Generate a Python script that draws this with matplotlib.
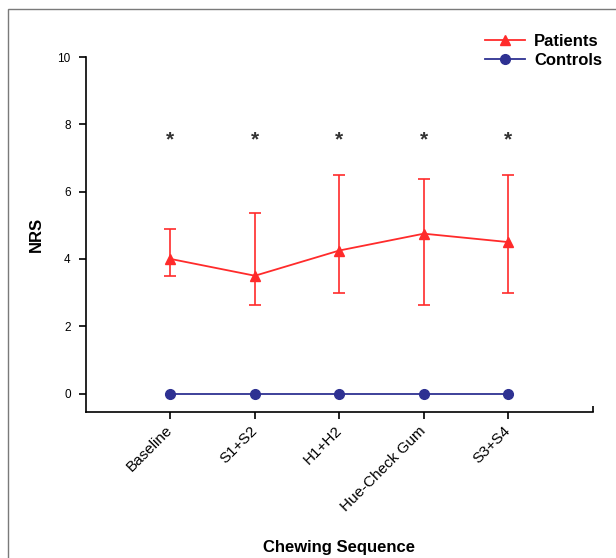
import matplotlib
matplotlib.use('Agg')
import matplotlib.pyplot as plt
from matplotlib.patches import Rectangle

plt.rcParams['font.family'] = ['Liberation Sans', 'DejaVu Sans']

# data
stages = ['Baseline', 'S1+S2', 'H1+H2', 'Hue-Check Gum', 'S3+S4']
patients = [4.0, 3.5, 4.25, 4.75, 4.5]
patients_hi = [4.875, 5.375, 6.5, 6.375, 6.5]
patients_lo = [3.5, 2.625, 3.0, 2.625, 3.0]
controls = [0, 0, 0, 0, 0]
star_y = [7.55, 7.55, 7.55, 7.55, 7.55]

red = '#ff2b2b'
blue = '#2e3192'

W, H = 616, 558
fig = plt.figure(figsize=(W / 100, H / 100), dpi=100)
fig.add_artist(Rectangle((8 / W, -0.1), 1.2, 1.1 - 9 / H, transform=fig.transFigure,
                         fill=False, edgecolor='#7a7a7a', lw=1))

ax = fig.add_axes([86 / W, 1 - 411.7 / H, (592.7 - 86) / W, (411.7 - 57) / H])
x = list(range(len(stages)))

lo_err = [m - l for m, l in zip(patients, patients_lo)]
hi_err = [h - m for m, h in zip(patients, patients_hi)]
ax.errorbar(x, patients, yerr=[lo_err, hi_err], fmt='none', ecolor=red,
            elinewidth=1.2, capsize=4.3, capthick=1.2, zorder=2)
ax.plot(x, patients, color=red, lw=1.3, marker='^', ms=6.5, label='Patients', zorder=3)
ax.plot(x, controls, color=blue, lw=1.3, marker='o', ms=7, label='Controls',
        clip_on=False, zorder=3)

for xi, yi in zip(x, star_y):
    ax.text(xi, yi, '*', ha='center', va='center', fontsize=15, fontweight='bold',
            color='#333333')

ax.set_xlim(-1, 5)
ax.set_ylim(-0.54, 10)
ax.set_yticks([0, 2, 4, 6, 8, 10])
ax.set_xticks(x)
ax.set_xticklabels(stages, rotation=45, ha='right', va='center',
                   rotation_mode='anchor', fontsize=11)
ax.set_xticks([5], minor=True)
ax.tick_params(axis='x', which='minor', direction='in', length=4, width=1.2)
ax.tick_params(axis='x', which='major', length=5, width=1.2, pad=7)
ax.tick_params(axis='y', length=5, width=1.2, labelsize=8.5, pad=6)

for s in ['top', 'right']:
    ax.spines[s].set_visible(False)
for s in ['left', 'bottom']:
    ax.spines[s].set_linewidth(1.2)

ax.set_ylabel('NRS', fontsize=12, fontweight='bold', labelpad=10)
ax.set_xlabel('Chewing Sequence', fontsize=12, fontweight='bold', labelpad=19)

ax.legend(loc='upper left', bbox_to_anchor=(485 / W, 1 - 34 / H),
          bbox_transform=fig.transFigure, frameon=False, borderpad=0,
          borderaxespad=0, handlelength=2.4, handletextpad=0.55,
          labelspacing=0.25, prop={'size': 12, 'weight': 'bold'})

fig.savefig('out.png', dpi=100)
